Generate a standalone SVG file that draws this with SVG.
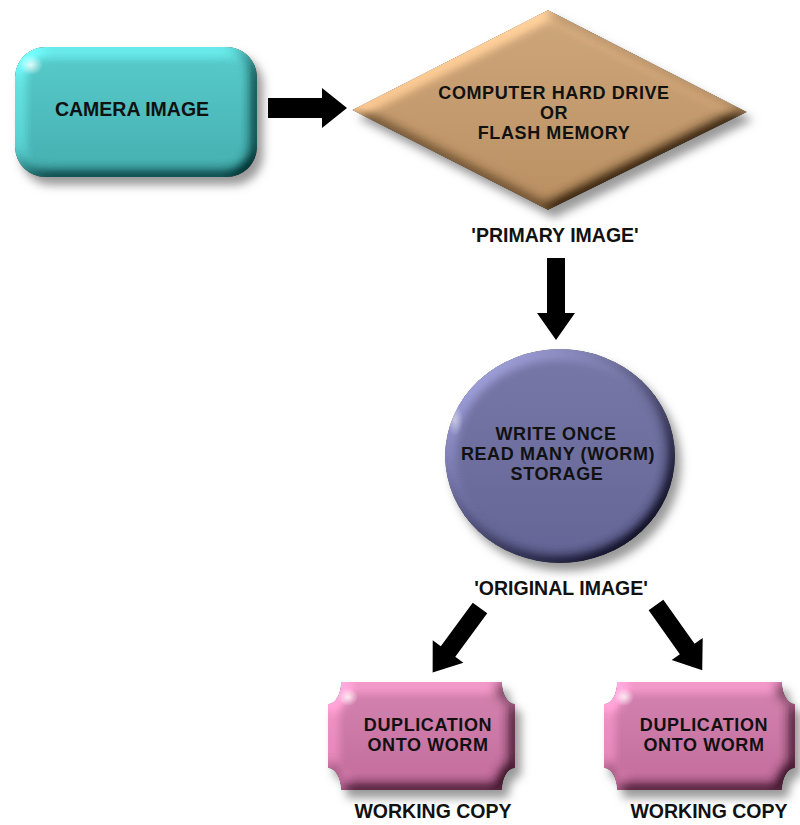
<svg xmlns="http://www.w3.org/2000/svg" width="800" height="825" viewBox="0 0 800 825">
  <defs>
    <style>
      .t { font-family: "Liberation Sans", Arial, sans-serif; font-weight: bold; font-size: 19.5px; fill: #111; text-anchor: middle; }
      .m { font-family: "Liberation Sans", Arial, sans-serif; font-weight: bold; font-size: 18px; letter-spacing: 0.6px; fill: #111; text-anchor: middle; }
      .arrow { fill: #000; }
    </style>
    <filter id="fx" x="-15%" y="-15%" width="140%" height="145%" color-interpolation-filters="sRGB">
      <feGaussianBlur in="SourceAlpha" stdDeviation="7" result="b"/>
      <feDiffuseLighting in="b" surfaceScale="5" diffuseConstant="0.85" lighting-color="#fff" result="d">
        <feDistantLight azimuth="225" elevation="55"/>
      </feDiffuseLighting>
      <feComposite in="SourceGraphic" in2="d" operator="arithmetic" k1="1.43" k2="0" k3="0.35" k4="-0.245" result="lit"/>
      <feComposite in="lit" in2="SourceAlpha" operator="in" result="litIn"/>
      <feGaussianBlur in="SourceAlpha" stdDeviation="5" result="sb"/>
      <feOffset in="sb" dx="6" dy="8" result="o"/>
      <feFlood flood-color="#333" flood-opacity="0.5"/>
      <feComposite in2="o" operator="in" result="sh"/>
      <feMerge><feMergeNode in="sh"/><feMergeNode in="litIn"/></feMerge>
    </filter>
    <linearGradient id="gTeal" x1="0" y1="0" x2="0" y2="1">
      <stop offset="0" stop-color="#58cdcd"/><stop offset="1" stop-color="#46afb0"/>
    </linearGradient>
    <linearGradient id="gTan" x1="0" y1="0" x2="0" y2="1">
      <stop offset="0" stop-color="#cea67a"/><stop offset="1" stop-color="#bb9062"/>
    </linearGradient>
    <linearGradient id="gPurple" x1="0" y1="0" x2="0" y2="1">
      <stop offset="0" stop-color="#7878a8"/><stop offset="1" stop-color="#646496"/>
    </linearGradient>
    <linearGradient id="gPink" x1="0" y1="0" x2="0" y2="1">
      <stop offset="0" stop-color="#d584b0"/><stop offset="1" stop-color="#c36c9c"/>
    </linearGradient>
    <radialGradient id="hl">
      <stop offset="0" stop-color="#fff" stop-opacity="0.8"/><stop offset="1" stop-color="#fff" stop-opacity="0"/>
    </radialGradient>
  </defs>

  <rect width="800" height="825" fill="#fff"/>

  <g id="connectors">
    <path class="arrow" d="M268,98 H322 V88 L347,108 L322,128 V118 H268 Z"/>
    <path class="arrow" d="M547,258 H565 V313 H575 L556,340 L537,313 H547 Z"/>
    <path class="arrow" transform="translate(480,608) rotate(126.3)" d="M0,-9 L54,-9 L54,-19 L80,0 L54,19 L54,9 L0,9 Z"/>
    <path class="arrow" transform="translate(656,605) rotate(54.7)" d="M0,-9 L54,-9 L54,-19 L80,0 L54,19 L54,9 L0,9 Z"/>
  </g>

  <g id="camera">
    <rect x="15" y="47" width="242" height="130" rx="30" fill="url(#gTeal)" filter="url(#fx)"/>
    <ellipse cx="31" cy="65" rx="12" ry="10" fill="url(#hl)"/>
    <text class="t" x="132" y="116">CAMERA IMAGE</text>
  </g>

  <g id="harddrive">
    <polygon points="548,10 747,112 548,210 352,110" fill="url(#gTan)" filter="url(#fx)"/>
    <text class="m" x="554" y="99">COMPUTER HARD DRIVE</text>
    <text class="m" x="554" y="119">OR</text>
    <text class="m" x="554" y="139">FLASH MEMORY</text>
  </g>

  <g id="primary-label">
    <text class="t" x="555" y="242">'PRIMARY IMAGE'</text>
  </g>

  <g id="worm">
    <ellipse cx="560" cy="456" rx="115" ry="107" fill="url(#gPurple)" filter="url(#fx)"/>
    <ellipse cx="455" cy="420" rx="8" ry="16" fill="url(#hl)" opacity="0.6"/>
    <text class="m" x="556" y="440">WRITE ONCE</text>
    <text class="m" x="558" y="460">READ MANY (WORM)</text>
    <text class="m" x="557" y="480">STORAGE</text>
  </g>

  <g id="original-label">
    <text class="t" x="561" y="595">'ORIGINAL IMAGE'</text>
  </g>

  <g id="dup-left">
    <path d="M341,682 H502 A13,22 0 0 0 515,704 V768 A13,22 0 0 0 502,790 H341 A13,22 0 0 0 328,768 V704 A13,22 0 0 0 341,682 Z" fill="url(#gPink)" filter="url(#fx)"/>
    <ellipse cx="348" cy="697" rx="10" ry="9" fill="url(#hl)"/>
    <text class="m" x="428" y="731">DUPLICATION</text>
    <text class="m" x="428" y="751">ONTO WORM</text>
  </g>

  <g id="dup-right">
    <path d="M617,682 H782 A13,22 0 0 0 795,704 V768 A13,22 0 0 0 782,790 H617 A13,22 0 0 0 604,768 V704 A13,22 0 0 0 617,682 Z" fill="url(#gPink)" filter="url(#fx)"/>
    <ellipse cx="624" cy="697" rx="10" ry="9" fill="url(#hl)"/>
    <text class="m" x="704" y="731">DUPLICATION</text>
    <text class="m" x="704" y="751">ONTO WORM</text>
  </g>

  <g id="working-left">
    <text class="t" x="433" y="818">WORKING COPY</text>
  </g>
  <g id="working-right">
    <text class="t" x="709" y="818">WORKING COPY</text>
  </g>
</svg>
